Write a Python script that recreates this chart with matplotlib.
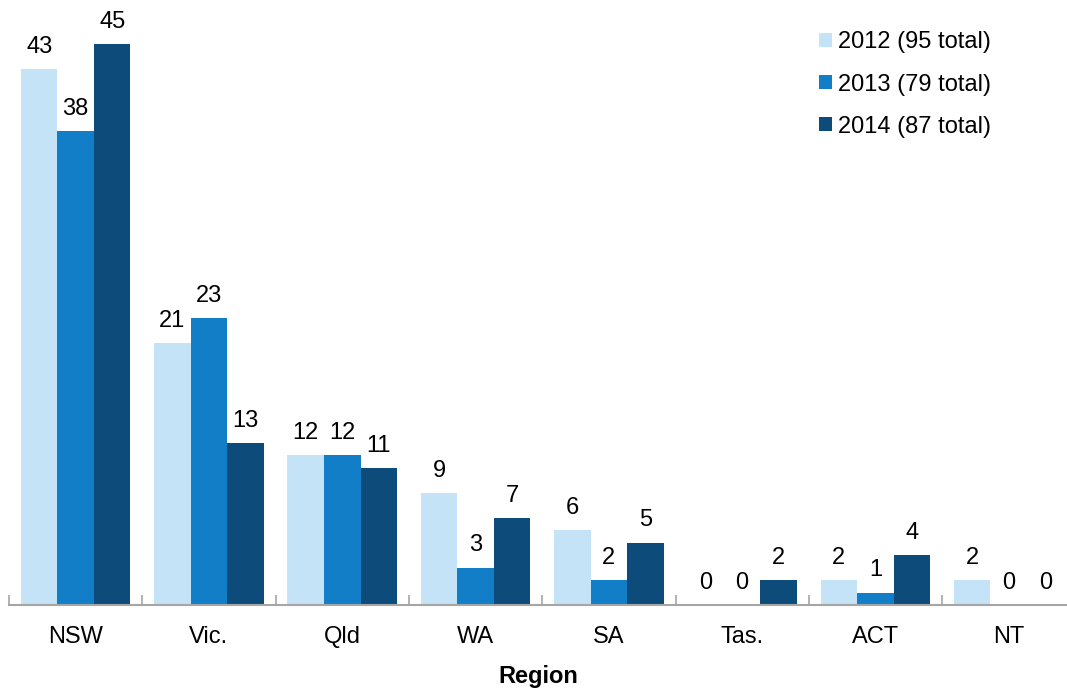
import matplotlib.pyplot as plt
import numpy as np

plt.rcParams['font.family'] = ['Liberation Sans', 'DejaVu Sans']

regions = ['NSW', 'Vic.', 'Qld', 'WA', 'SA', 'Tas.', 'ACT', 'NT']
v2012 = [43, 21, 12, 9, 6, 0, 2, 2]
v2013 = [38, 23, 12, 3, 2, 0, 1, 0]
v2014 = [45, 13, 11, 7, 5, 2, 4, 0]
series_labels = ['2012 (95 total)', '2013 (79 total)', '2014 (87 total)']
colors = ['#C5E3F7', '#137EC8', '#0D4C7A']

fig = plt.figure(figsize=(10.67, 6.91), dpi=100)
ax = fig.add_axes([9 / 1067, 1 - 605 / 691, 1 - 9 / 1067, (605 - 44) / 691])

x = np.arange(len(regions))
w = 0.274
for k, (vals, lab, c) in enumerate(zip([v2012, v2013, v2014], series_labels, colors)):
    pos = x + (k - 1) * w
    bars = ax.bar(pos, vals, width=w, color=c, label=lab, linewidth=0)
    for xi, v in zip(pos, vals):
        ax.text(xi, v + 0.9, str(v), ha='center', va='bottom', fontsize=17)

ax.set_ylim(0, 45)
ax.set_xlim(-0.5, -0.5 + (1067 - 9) / 133.3)
ax.set_yticks([])
for s in ['top', 'right', 'left']:
    ax.spines[s].set_visible(False)
ax.spines['bottom'].set_color('#A6A6A6')
ax.spines['bottom'].set_linewidth(1.5)

ax.set_xticks(x)
ax.set_xticklabels(regions, fontsize=17)
ax.tick_params(axis='x', which='major', length=0, pad=15)
ax.set_xticks(np.arange(len(regions)) - 0.5, minor=True)
ax.tick_params(axis='x', which='minor', direction='in', length=7, width=1.2, color='#A6A6A6')

# axis title placed directly so it stays inside the figure
fig.text(538 / 1067, 1 - 677 / 691, 'Region', ha='center', va='center', fontsize=17, fontweight='bold')

ax.legend(loc='upper left', bbox_to_anchor=(810 / 1067, 1 - 22 / 691), bbox_transform=fig.transFigure,
          frameon=False, fontsize=17, handlelength=0.55, handleheight=0.55, handletextpad=0.25,
          labelspacing=0.85, borderaxespad=0)

fig.savefig('out.png', dpi=100)
